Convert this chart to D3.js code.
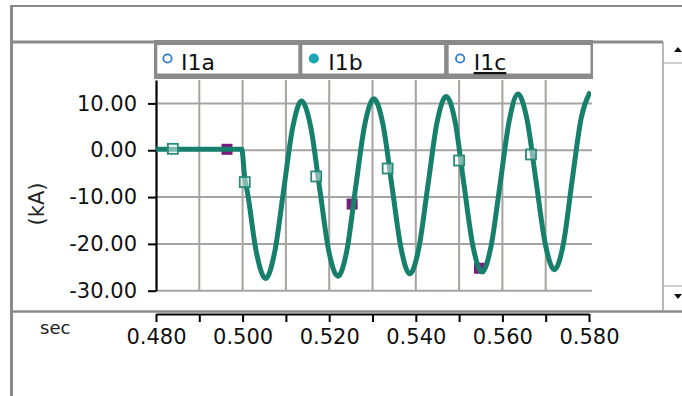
<!DOCTYPE html>
<html>
<head>
<meta charset="utf-8">
<script src="https://cdn.jsdelivr.net/npm/d3@7"></script>
<style>
body { margin: 0; background: #fff; }
svg { display: block; font-family: "DejaVu Sans", Verdana, sans-serif; }
</style>
</head>
<body>
<div id="chart"></div>
<script>
// fault current trace (sec, kA)
const timeSec = [0.4800, 0.4998, 0.5005, 0.5011, 0.5032, 0.5053, 0.5074, 0.5095, 0.5116, 0.5136,
    0.5157, 0.5178, 0.5199, 0.5220, 0.5241, 0.5261, 0.5282, 0.5303, 0.5324, 0.5345,
    0.5366, 0.5386, 0.5407, 0.5428, 0.5449, 0.5470, 0.5491, 0.5511, 0.5532, 0.5553,
    0.5574, 0.5595, 0.5616, 0.5636, 0.5657, 0.5678, 0.5699, 0.5720, 0.5741, 0.5761,
    0.5782, 0.5803];
const currentKA = [0.2, 0.2, -6.0, -8.9, -21.9, -27.4, -21.8, -8.4, 5.0, 10.5,
    5.1, -8.2, -21.5, -26.9, -21.3, -8.0, 5.4, 11.0, 5.6, -7.7,
    -21.0, -26.4, -20.9, -7.5, 5.9, 11.5, 6.0, -7.2, -20.5, -26.0,
    -20.4, -7.0, 6.4, 12.0, 6.5, -6.8, -20.0, -25.5, -19.9, -6.5,
    6.9, 12.5];

// sample markers
const hollowTimes = [0.4839, 0.5005, 0.5170, 0.5335, 0.5500, 0.5666];
const hollowKA = [0.3, -6.8, -5.6, -3.9, -2.2, -0.9];
const filledTimes = [0.4964, 0.5253, 0.5547];
const filledKA = [0.2, -11.5, -25.2];

const seriesNames = ["I1a", "I1b", "I1c"];
const seriesFilled = [false, true, false];

const xTicks = [0.48, 0.49, 0.50, 0.51, 0.52, 0.53, 0.54, 0.55, 0.56, 0.57, 0.58];
const xLabels = [0.48, 0.50, 0.52, 0.54, 0.56, 0.58];
const yTicks = [10, 0, -10, -20, -30];

const W = 682, H = 396;
const fontFamily = "DejaVu Sans, Verdana, sans-serif";
const frameGray = "#8a8a8a";
const gridGray = "#a7a39f";
const lineColor = "#17806d";

const svg = d3.select("#chart").append("svg")
    .attr("width", W)
    .attr("height", H);

const x = d3.scaleLinear().domain([0.48, 0.58]).range([156, 589]);
const y = d3.scaleLinear().domain([-30, 15]).range([290.7, 80]);

// outer frame lines
const frame = svg.append("g").attr("stroke", frameGray).attr("fill", "none");
frame.append("line").attr("x1", 10).attr("x2", W).attr("y1", 6).attr("y2", 6).attr("stroke-width", 2);
frame.append("line").attr("x1", 11.5).attr("x2", 11.5).attr("y1", 5).attr("y2", H).attr("stroke-width", 3);
frame.append("line").attr("x1", 10).attr("x2", 663).attr("y1", 42).attr("y2", 42).attr("stroke-width", 3);
frame.append("line").attr("x1", 10).attr("x2", W).attr("y1", 311.5).attr("y2", 311.5).attr("stroke-width", 2.5);

// scroll bar on the right
const scroll = svg.append("g").attr("stroke", "#a0a0a0").attr("fill", "none");
scroll.append("line").attr("x1", 663).attr("x2", 663).attr("y1", 42).attr("y2", 311).attr("stroke-width", 1.5);
scroll.append("line").attr("x1", 663).attr("x2", W).attr("y1", 63).attr("y2", 63).attr("stroke-width", 1);
scroll.append("line").attr("x1", 663).attr("x2", W).attr("y1", 286).attr("y2", 286).attr("stroke-width", 1);
svg.append("path").attr("d", "M674,52 L678,47 L682,52 Z").attr("fill", "#111");
svg.append("path").attr("d", "M674,294 L678,299 L682,294 Z").attr("fill", "#111");

// grid
const grid = svg.append("g").attr("stroke", gridGray).attr("stroke-width", 2);
grid.selectAll(".vgrid")
    .data(xTicks.slice(1, -1))
    .join("line")
    .attr("class", "vgrid")
    .attr("x1", d => x(d)).attr("x2", d => x(d))
    .attr("y1", y(15)).attr("y2", y(-30));
grid.selectAll(".hgrid")
    .data(yTicks)
    .join("line")
    .attr("class", "hgrid")
    .attr("x1", x(0.48)).attr("x2", 592)
    .attr("y1", d => y(d)).attr("y2", d => y(d));

// legend boxes across the top of the plot
const band = d3.scaleBand().domain(seriesNames).range([154, 593]);
const legend = svg.append("g");
legend.append("rect")
    .attr("x", 154).attr("y", 40).attr("width", 439).attr("height", 39)
    .attr("fill", frameGray);
const item = legend.selectAll(".item")
    .data(seriesNames)
    .join("g")
    .attr("class", "item")
    .attr("transform", d => `translate(${band(d)},0)`);
item.append("rect")
    .attr("x", (d, i) => i === 0 ? 3.3 : 2)
    .attr("y", 45)
    .attr("width", (d, i) => band.bandwidth() - (i === 0 ? 5.3 : 4.5))
    .attr("height", 28.5)
    .attr("fill", "#fff");
item.append("circle")
    .attr("cx", 13.5).attr("cy", 58.5).attr("r", 4.2)
    .attr("fill", (d, i) => seriesFilled[i] ? "#1aa6b0" : "#fff")
    .attr("stroke", (d, i) => seriesFilled[i] ? "#1aa6b0" : "#2a7ad6")
    .attr("stroke-width", 1.8);
item.append("text")
    .attr("x", (d, i) => i === 1 ? 28 : 27).attr("y", 70)
    .attr("font-size", 22)
    .attr("fill", "#111")
    .attr("text-decoration", (d, i) => i === 2 ? "underline" : null)
    .text(d => d);

// y axis
const yAxis = svg.append("g")
    .attr("transform", `translate(${x(0.48)},0)`)
    .call(d3.axisLeft(y).tickValues(yTicks).tickFormat(d => d.toFixed(2)).tickSize(8).tickSizeOuter(0).tickPadding(11))
    .attr("font-family", fontFamily)
    .attr("font-size", 21);
yAxis.select(".domain").attr("stroke", "#000").attr("stroke-width", 2.2);
yAxis.selectAll(".tick line").attr("stroke", "#000").attr("stroke-width", 2);
yAxis.selectAll(".tick text").attr("fill", "#111");

svg.append("text")
    .attr("transform", "translate(44,204) rotate(-90)")
    .attr("text-anchor", "middle")
    .attr("font-size", 21)
    .attr("fill", "#222")
    .text("(kA)");

// x axis
const xAxis = svg.append("g")
    .attr("transform", "translate(0,314)")
    .call(d3.axisBottom(x).tickValues(xTicks)
        .tickFormat(d => xLabels.some(v => Math.abs(v - d) < 1e-9) ? d.toFixed(3) : "")
        .tickSize(8).tickSizeOuter(0).tickPadding(7))
    .attr("font-family", fontFamily)
    .attr("font-size", 21);
xAxis.select(".domain").attr("stroke", "#000").attr("stroke-width", 2);
xAxis.selectAll(".tick line").attr("stroke", "#000").attr("stroke-width", 2);
xAxis.selectAll(".tick text").attr("fill", "#111");

svg.append("text")
    .attr("x", 40).attr("y", 334)
    .attr("font-size", 18)
    .attr("fill", "#222")
    .text("sec");

// plot clip
svg.append("clipPath").attr("id", "plotClip")
    .append("rect").attr("x", x(0.48)).attr("y", 78).attr("width", x(0.58) - x(0.48) + 2).attr("height", 215);

const plot = svg.append("g").attr("clip-path", "url(#plotClip)");

const points = timeSec.map((t, i) => ({t: t, v: currentKA[i]}));
const filledPts = filledTimes.map((t, i) => ({t: t, v: filledKA[i]}));
const hollowPts = hollowTimes.map((t, i) => ({t: t, v: hollowKA[i]}));

plot.selectAll(".filledMark")
    .data(filledPts)
    .join("rect")
    .attr("class", "filledMark")
    .attr("x", d => x(d.t) - 5.5).attr("y", d => y(d.v) - 5.5)
    .attr("width", 11).attr("height", 11)
    .attr("fill", "#7d1a7d");

const line = d3.line()
    .x(d => x(d.t))
    .y(d => y(d.v))
    .curve(d3.curveMonotoneX);

plot.append("path")
    .datum(points)
    .attr("d", line)
    .attr("fill", "none")
    .attr("stroke", lineColor)
    .attr("stroke-width", 5)
    .attr("stroke-linejoin", "round");

plot.selectAll(".hollowMark")
    .data(hollowPts)
    .join("rect")
    .attr("class", "hollowMark")
    .attr("x", d => x(d.t) - 5).attr("y", d => y(d.v) - 5)
    .attr("width", 10).attr("height", 10)
    .attr("fill", "rgba(255,255,255,0.45)")
    .attr("stroke", "#2a8a78")
    .attr("stroke-width", 1.8);
</script>
</body>
</html>
